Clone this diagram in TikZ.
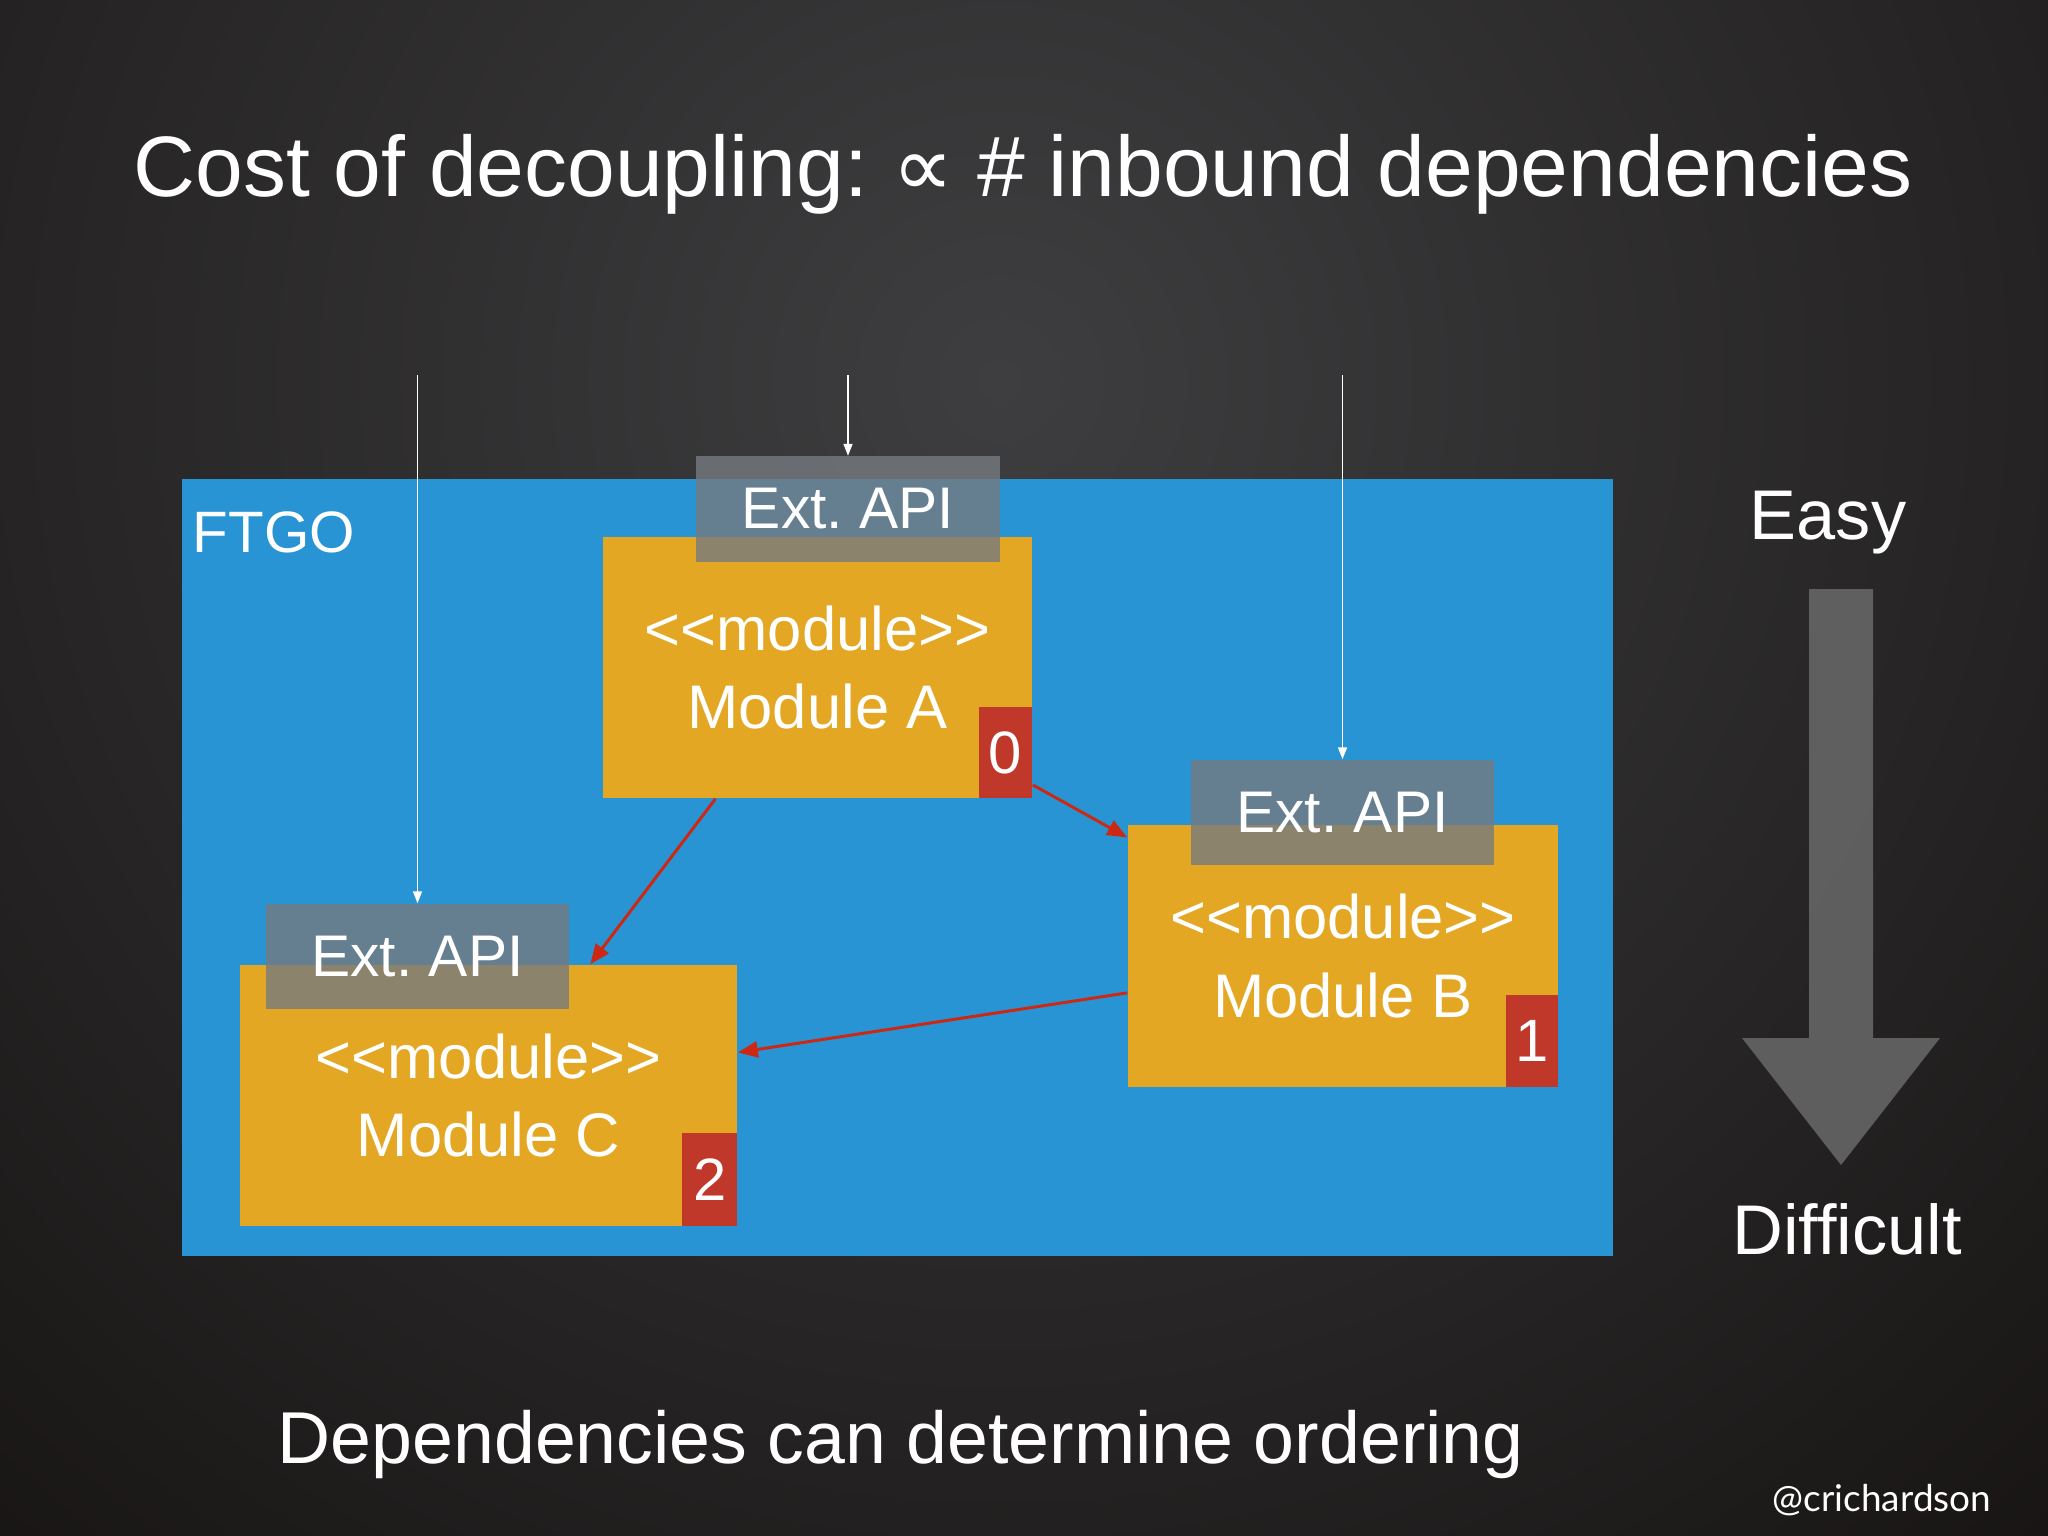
\documentclass[tikz,border=0pt]{standalone}
\usepackage{fontspec}
\setmainfont{Liberation Sans}
\newfontfamily\symfont{DejaVu Sans}
\newfontfamily\handlefont{Lato}
\usetikzlibrary{arrows.meta,calc}
\frenchspacing
\definecolor{ftgoblue}{RGB}{40,148,212}
\definecolor{modyellow}{RGB}{228,167,36}
\definecolor{badgered}{RGB}{192,56,42}
\definecolor{apigray}{RGB}{118,122,128}
\definecolor{depred}{RGB}{205,40,20}
\definecolor{bginner}{RGB}{62,62,64}
\definecolor{bgouter}{RGB}{16,12,11}
\definecolor{arrowgray}{RGB}{100,100,100}
\tikzset{
  module/.style={fill=modyellow, inner sep=0, align=center, text=white,
    font=\fontsize{17.5}{22.2}\selectfont},
  api/.style={fill=apigray, fill opacity=0.8, text opacity=1, inner sep=0,
    minimum width=3.03cm, minimum height=1.05cm, text=white,
    font=\fontsize{16.7}{20}\selectfont},
  badge/.style={fill=badgered, inner sep=0, text=white, anchor=south east,
    font=\fontsize{17}{20}\selectfont},
  dep/.style={draw=depred, line width=0.85pt, -{Triangle[length=0.2cm,width=0.16cm]}},
  inbound/.style={draw=white, line width=0.45pt, -{Triangle[length=0.12cm,width=0.09cm]}},
  label/.style={text=white, inner sep=0},
}
\newcommand\stereo{<{}<module>{}>}
\begin{document}
\begin{tikzpicture}[x=0.01cm,y=-0.01cm]
\useasboundingbox (0,0) rectangle (2048,1536);
% background
\fill[bgouter] (0,0) rectangle (2048,1536);
\begin{scope}
  \clip (0,0) rectangle (2048,1536);
  \shade[inner color=bginner, outer color=bgouter] (1000,380) circle (1900);
\end{scope}

% title
\node[label, anchor=base, font=\fontsize{24.4}{30}\selectfont] (title) at (1023,196)
  {Cost of decoupling: {\symfont ∝} \# inbound dependencies};

% FTGO container
\node[fill=ftgoblue, inner sep=0, minimum width=14.31cm, minimum height=7.77cm] (ftgo) at (897.5,867.5) {};
\node[label, anchor=base west, font=\fontsize{16.6}{20}\selectfont] (ftgolabel) at (192,552) {FTGO};

% modules
\node[module, minimum width=4.29cm, minimum height=2.61cm] (A) at (817.5,667.5) {\stereo\\Module A};
\node[module, minimum width=4.30cm, minimum height=2.62cm] (B) at (1343,956) {\stereo\\Module B};
\node[module, minimum width=4.97cm, minimum height=2.61cm] (C) at (488.5,1095.5) {\stereo\\Module C};

% badges
\node[badge, minimum width=0.53cm, minimum height=0.91cm] (b0) at (A.south east) {0};
\node[badge, minimum width=0.52cm, minimum height=0.92cm] (b1) at (B.south east) {1};
\node[badge, minimum width=0.55cm, minimum height=0.93cm] (b2) at (C.south east) {2};

% external APIs
\node[api] (apiA) at (848,509) {Ext. API};
\node[api] (apiB) at (1342.5,812.5) {Ext. API};
\node[api] (apiC) at (417.5,956.5) {Ext. API};

% dependencies
\draw[dep] ($(A.south west)!0.263!(A.south east)$) -- ($(C.north west)!0.704!(C.north east)$);
\draw[dep] ($(b0.north east)!0.85!(b0.south east)$) -- ($(B.north west)!0.05!(B.south west)$);
\draw[dep] ($(B.north west)!0.64!(B.south west)$) -- ($(C.north east)!0.336!(C.south east)$);

% inbound
\coordinate (inA) at (848,375);
\coordinate (inB) at (1342.5,375);
\coordinate (inC) at (417.5,375);
\draw[inbound] (inA) -- (apiA.north);
\draw[inbound] (inB) -- (apiB.north);
\draw[inbound] (inC) -- (apiC.north);

% easy / difficult
\node[label, anchor=base, font=\fontsize{20}{24}\selectfont] (easy) at (1828,539) {Easy};
\node[label, anchor=base, font=\fontsize{20}{24}\selectfont] (difficult) at (1847,1254) {Difficult};
\fill[arrowgray, fill opacity=0.92] (1809,589) -- (1873,589) -- (1873,1038) -- (1940,1038)
  -- (1841,1165) -- (1742,1038) -- (1809,1038) -- cycle;

% bottom
\node[label, anchor=base west, font=\fontsize{20.9}{25}\selectfont] (ordering) at (277,1463)
  {Dependencies can determine ordering};
\node[label, anchor=base, font=\handlefont\fontsize{10.5}{12}\selectfont] (handle) at (1882,1511) {@crichardson};
\end{tikzpicture}
\end{document}
